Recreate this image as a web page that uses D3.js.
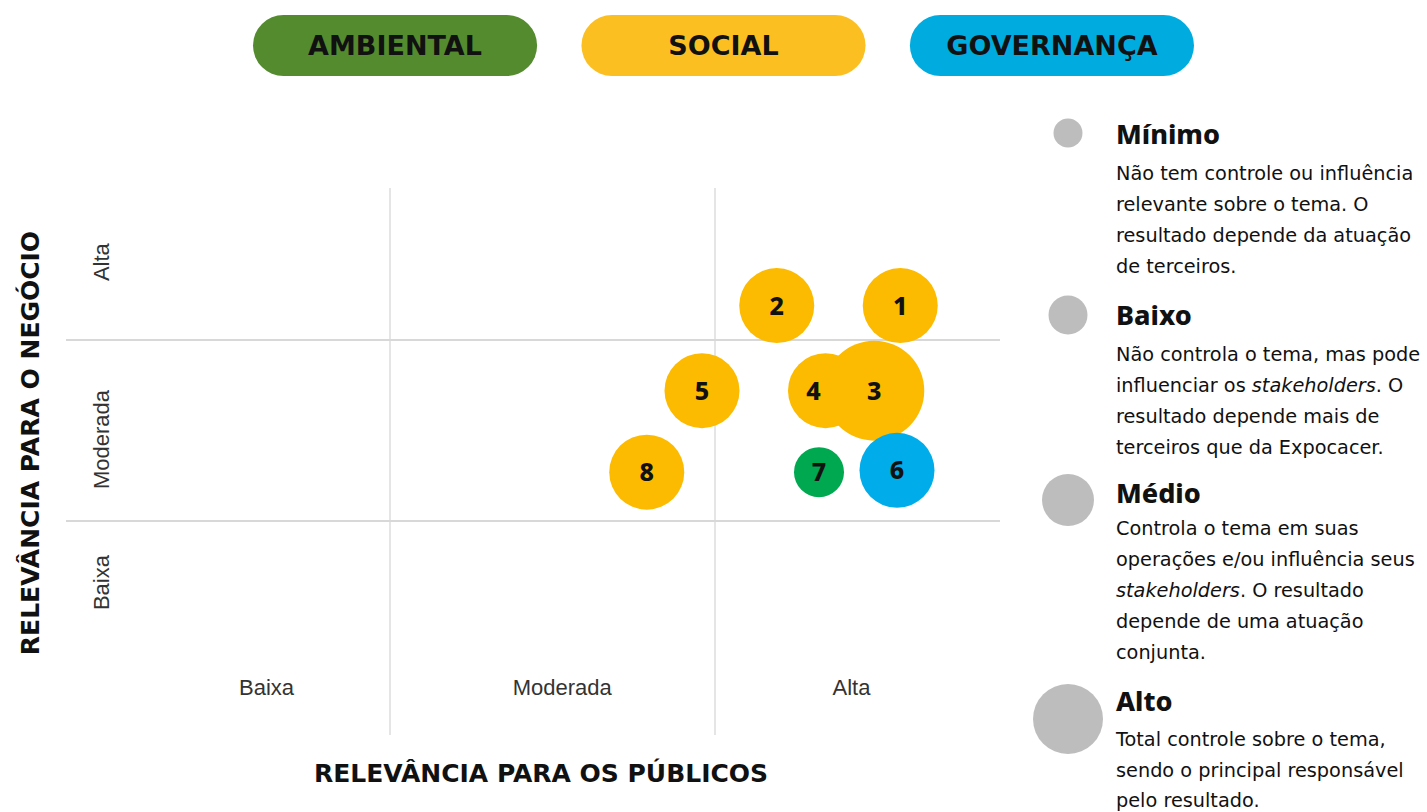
<!DOCTYPE html>
<html lang="pt">
<head>
<meta charset="UTF-8">
<title>Matriz de materialidade</title>
<script src="https://d3js.org/d3.v7.min.js"></script>
<style>
  body { margin: 0; background: #fff; }
</style>
</head>
<body>
<svg id="chart" width="1427" height="812"></svg>
<script>
// Temas (bolhas)
const topics = ["1", "2", "3", "4", "5", "6", "7", "8"];
const publicRelevance = [2.57, 2.19, 2.49, 2.34, 1.96, 2.56, 2.32, 1.79];
const businessRelevance = [2.19, 2.19, 1.72, 1.72, 1.72, 1.28, 1.27, 1.27];
const control = [3, 3, 4, 3, 3, 3, 2, 3];
const pillar = ["Social", "Social", "Social", "Social", "Social", "Governança", "Ambiental", "Social"];

// Eixos
const levels = ["Baixa", "Moderada", "Alta"];
const xTickValues = [0.62, 1.53, 2.42];
const yTickValues = [0.66, 1.45, 2.43];

// Pilares (legenda superior)
const pillars = ["Ambiental", "Social", "Governança"];

// Legenda de controle
const controlLevels = ["Mínimo", "Baixo", "Médio", "Alto"];
const controlText = [
  ["Não tem controle ou influência", "relevante sobre o tema. O", "resultado depende da atuação", "de terceiros."],
  ["Não controla o tema, mas pode", "influenciar os *stakeholders*. O", "resultado depende mais de", "terceiros que da Expocacer."],
  ["Controla o tema em suas", "operações e/ou influência seus", "*stakeholders*. O resultado", "depende de uma atuação", "conjunta."],
  ["Total controle sobre o tema,", "sendo o principal responsável", "pelo resultado."]
];

const svg = d3.select("#chart");
const font = "'Noto Sans', sans-serif";
const wide = "'DejaVu Sans', sans-serif";

const pillarColor = d3.scaleOrdinal().domain(pillars).range(["#548b2f", "#fcbf22", "#00acdf"]);
const bubbleColor = d3.scaleOrdinal().domain(pillars).range(["#00a84f", "#fcbb00", "#00adea"]);

// scales
const x = d3.scaleLinear().domain([0, 3]).range([65, 1040]);
const y = d3.scaleLinear().domain([0, 3]).range([702, 159]);
const r = d3.scaleLinear().domain([0, 4]).range([0, 50]);

// top pills
const pill = d3.scaleBand().domain(pillars).range([253, 1194]).paddingInner(0.135);
const pg = svg.selectAll("g.pill").data(pillars).enter().append("g")
  .attr("transform", d => `translate(${pill(d)},15)`);
pg.append("rect")
  .attr("width", pill.bandwidth()).attr("height", 61)
  .attr("rx", 30.5)
  .attr("fill", d => pillarColor(d));
pg.append("text")
  .attr("x", pill.bandwidth() / 2).attr("y", 40)
  .attr("text-anchor", "middle")
  .style("font-family", wide).style("font-weight", 700).style("font-size", "27px")
  .attr("fill", "#111")
  .text(d => d.toUpperCase());

// grid lines
const plotLeft = 66, plotRight = 1000, plotTop = 188, plotBottom = 735;
svg.selectAll("line.v").data([1, 2]).enter().append("line")
  .attr("x1", d => x(d)).attr("x2", d => x(d))
  .attr("y1", plotTop).attr("y2", plotBottom)
  .attr("stroke", "#d4d4d4").attr("stroke-width", 1.2);
svg.selectAll("line.h").data([1, 2]).enter().append("line")
  .attr("x1", plotLeft).attr("x2", plotRight)
  .attr("y1", d => y(d)).attr("y2", d => y(d))
  .attr("stroke", "#d8d8d8").attr("stroke-width", 2);

// tick labels
svg.selectAll("text.xt").data(levels).enter().append("text")
  .attr("x", (d, i) => x(xTickValues[i])).attr("y", 695)
  .attr("text-anchor", "middle")
  .style("font-family", "'Liberation Sans', Arial, sans-serif").style("font-size", "22px")
  .attr("fill", "#333").text(d => d);
svg.selectAll("text.yt").data(levels).enter().append("text")
  .attr("transform", (d, i) => `translate(109,${y(yTickValues[i])}) rotate(-90)`)
  .attr("text-anchor", "middle")
  .style("font-family", "'Liberation Sans', Arial, sans-serif").style("font-size", "22px")
  .attr("fill", "#333").text(d => d);

// axis titles
svg.append("text")
  .attr("x", 541).attr("y", 782)
  .attr("text-anchor", "middle")
  .style("font-family", wide).style("font-weight", 700).style("font-size", "25px")
  .attr("fill", "#111").text("RELEVÂNCIA PARA OS PÚBLICOS");
svg.append("text")
  .attr("transform", "translate(39,443) rotate(-90)")
  .attr("text-anchor", "middle")
  .style("font-family", wide).style("font-weight", 700).style("font-size", "25px")
  .attr("fill", "#111").text("RELEVÂNCIA PARA O NEGÓCIO");

// bubbles
const bubbles = topics.map((t, i) => ({
  id: t, px: publicRelevance[i], py: businessRelevance[i], c: control[i], p: pillar[i]
}));
svg.selectAll("circle.b").data(bubbles).enter().append("circle")
  .attr("cx", d => x(d.px)).attr("cy", d => y(d.py))
  .attr("r", d => r(d.c))
  .attr("fill", d => bubbleColor(d.p));
svg.selectAll("text.b").data(bubbles).enter().append("text")
  .attr("x", d => x(d.px) - (d.id === "4" ? 12 : 0)).attr("y", d => y(d.py) + 9)
  .attr("text-anchor", "middle")
  .style("font-family", font).style("font-weight", 800).style("font-size", "25px")
  .attr("fill", "#111").text(d => d.id);

// control legend
const legendY = [133, 315, 500, 719];
const legendR = d3.scaleOrdinal().domain(controlLevels).range([14.5, 19.5, 26, 35]);
const lg = svg.selectAll("g.leg").data(controlLevels).enter().append("g")
  .attr("transform", (d, i) => `translate(0,${legendY[i]})`);
lg.append("circle")
  .attr("cx", 1068).attr("cy", 0)
  .attr("r", d => legendR(d)).attr("fill", "#bdbdbd");
lg.append("text")
  .attr("x", 1116).attr("y", (d, i) => [11, 10, 3, -8][i])
  .style("font-family", font).style("font-weight", 800).style("font-size", "27px")
  .attr("fill", "#111").text(d => d);
lg.each(function(d, i) {
  const g = d3.select(this);
  const top = [47, 46, 35, 27][i];
  const step = i === 3 ? 30.5 : 31;
  controlText[i].forEach((line, j) => {
    const t = g.append("text")
      .attr("x", 1116).attr("y", top + j * step)
      .style("font-family", wide).style("font-size", "19.3px")
      .attr("fill", "#111");
    line.split("*").forEach((seg, k) => {
      if (!seg) return;
      t.append("tspan").style("font-style", k % 2 ? "italic" : "normal").text(seg);
    });
  });
});
</script>
</body>
</html>
